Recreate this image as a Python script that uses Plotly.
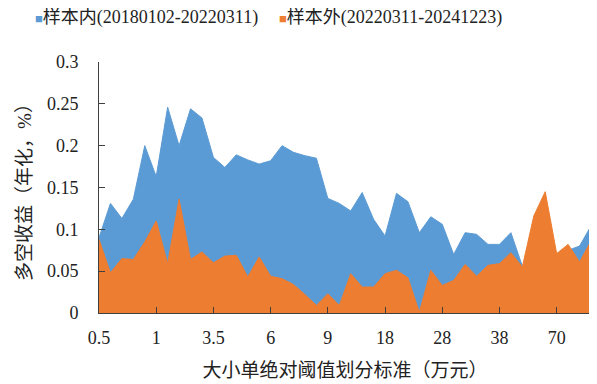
import plotly.graph_objects as go

# Category thresholds (万元); only every 5th is labelled on the axis
thresholds = ["0.5", "0.6", "0.7", "0.8", "0.9",
              "1", "1.5", "2", "2.5", "3",
              "3.5", "4", "4.5", "5", "5.5",
              "6", "6.5", "7", "7.5", "8",
              "9", "10", "12", "14", "16",
              "18", "20", "22", "24", "26",
              "28", "30", "32", "34", "36",
              "38", "40", "45", "50", "60",
              "70", "80", "90", "100"]
tick_labels = ["0.5", "1", "3.5", "6", "9", "18", "28", "38", "70"]

in_sample = [0.090, 0.131, 0.113, 0.136, 0.200, 0.163, 0.246, 0.200, 0.244, 0.233,
             0.186, 0.174, 0.189, 0.183, 0.178, 0.182, 0.200, 0.192, 0.188, 0.185,
             0.137, 0.131, 0.122, 0.144, 0.112, 0.092, 0.143, 0.133, 0.096, 0.115,
             0.106, 0.070, 0.096, 0.094, 0.082, 0.082, 0.096, 0.056, 0.080, 0.075,
             0.070, 0.075, 0.080, 0.104]
out_sample = [0.088, 0.048, 0.065, 0.064, 0.085, 0.110, 0.059, 0.136, 0.064, 0.073,
              0.060, 0.068, 0.069, 0.043, 0.067, 0.044, 0.041, 0.034, 0.022, 0.009,
              0.023, 0.009, 0.047, 0.031, 0.031, 0.047, 0.051, 0.042, 0.001, 0.051,
              0.033, 0.039, 0.058, 0.044, 0.057, 0.059, 0.072, 0.055, 0.116, 0.145,
              0.071, 0.082, 0.061, 0.086]

names = ["样本内(20180102-20220311)", "样本外(20220311-20241223)"]
colors = ["#5B9BD5", "#ED7D31"]

FONT = "Liberation Serif, Noto Sans CJK SC"

# page has an 8px body margin; size the figure to fit the 597x384 window
W, H = 589, 376
L, R, T, B = 91, 6, 54, 71
plot_w = W - L - R
plot_h = H - T - B

fig = go.Figure()
for vals, name, col in zip([in_sample, out_sample], names, colors):
    fig.add_trace(go.Scatter(
        x=thresholds, y=vals, name=name, mode="lines",
        fill="tozeroy", fillcolor=col,
        line=dict(color=col, width=1),
        showlegend=False,
    ))

# legend drawn as text with coloured squares (pixel positions converted to paper)
legend_px = [25, 269]
for px, name, col in zip(legend_px, names, colors):
    fig.add_annotation(
        x=(px - L) / plot_w, y=1 + (T - 10) / plot_h,
        xref="paper", yref="paper", yanchor="middle", xanchor="left",
        text=f"<span style='color:{col};font-size:13px'>■</span>{name}",
        showarrow=False, font=dict(family=FONT, size=18, color="#222"),
    )

fig.update_layout(
    width=W, height=H,
    margin=dict(l=L, r=R, t=T, b=B, autoexpand=False),
    paper_bgcolor="white", plot_bgcolor="white",
    font=dict(family=FONT, size=17, color="#222"),
)

fig.update_xaxes(
    type="category", range=[0, len(thresholds) - 1],
    tickmode="array", tickvals=tick_labels, ticktext=tick_labels,
    ticks="inside", ticklen=6, tickcolor="#404040",
    showline=True, linecolor="#404040", linewidth=1,
    showgrid=False, zeroline=False, automargin=False,
    tickfont=dict(size=18), ticklabelstandoff=8,
    title=dict(text="大小单绝对阈值划分标准（万元）", font=dict(size=19), standoff=17),
)
fig.update_yaxes(
    range=[0, 0.3], tickvals=[0, 0.05, 0.1, 0.15, 0.2, 0.25, 0.3],
    ticktext=["0", "0.05", "0.1", "0.15", "0.2", "0.25", "0.3"],
    ticks="inside", ticklen=6, tickcolor="#404040",
    showline=True, linecolor="#404040", linewidth=1,
    showgrid=False, zeroline=False, automargin=False,
    tickfont=dict(size=18), ticklabelstandoff=16,
    title=dict(text="多空收益（年化，%）", font=dict(size=19), standoff=10),
)

fig.write_html("out.html")
